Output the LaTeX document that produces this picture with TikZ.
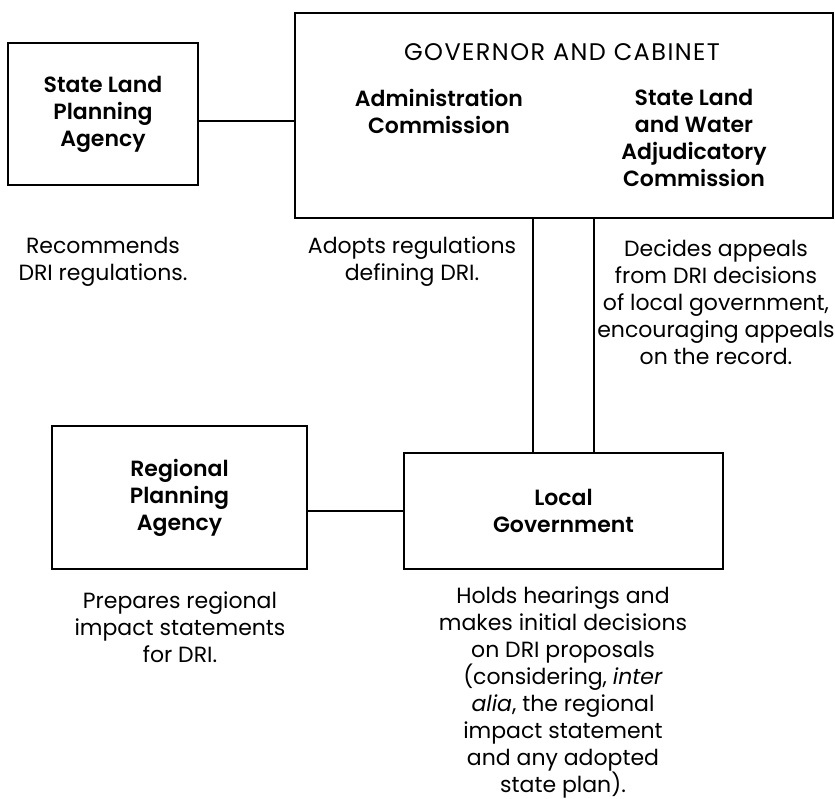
\documentclass[tikz,border=0pt]{standalone}
\usepackage{fontspec}
\setmainfont{Poppins}[BoldFont={* SemiBold}]
\usetikzlibrary{positioning,calc}

\begin{document}
\begin{tikzpicture}[x=1pt,y=-1pt,
  font={\fontsize{22pt}{27pt}\selectfont},
  agency/.style={draw,line width=2.4,inner sep=0,align=center,font={\fontsize{22pt}{27pt}\selectfont\bfseries}},
  remark/.style={align=center,inner sep=0},
  link/.style={line width=1.8}
  ]
  \useasboundingbox (0,0) rectangle (835,799);

  % boxes
  \node[agency,minimum width=190,minimum height=142] (slpa) at (103,114) {State Land\\Planning\\Agency};
  \node[agency,minimum width=538,minimum height=205] (gov) at (564,115.5) {};
  \node[remark,font={\fontsize{24pt}{27pt}\selectfont\addfontfeature{LetterSpace=6}}] (title) at (562,52) {GOVERNOR AND CABINET};
  \node[remark,font={\fontsize{22pt}{27pt}\selectfont\bfseries}] (admin) at (439,111) {Administration\\Commission};
  \node[remark,font={\fontsize{22pt}{27pt}\selectfont\bfseries}] (adjud) at (694,138) {State Land\\and Water\\Adjudicatory\\Commission};
  \node[agency,minimum width=255,minimum height=143] (rpa) at (179.5,497.5) {Regional\\Planning\\Agency};
  \node[agency,minimum width=319,minimum height=116] (local) at (563.5,511) {Local\\Government};

  % what each one does
  \node[remark] (recommends) at (103,262) {Recommends\\DRI regulations.};
  \node[remark] (adopts) at (412,262) {Adopts regulations\\defining DRI.};
  \node[remark] (decides) at (716,302) {Decides appeals\\from DRI decisions\\of local government,\\encouraging appeals\\on the record.};
  \node[remark] (prepares) at (180,627) {Prepares regional\\impact statements\\for DRI.};
  \node[remark] (holds) at (563,692) {Holds hearings and\\makes initial decisions\\on DRI proposals\\(considering, \emph{inter}\\\emph{alia}, the regional\\impact statement\\and any adopted\\state plan).};

  % links
  \draw[link] ([yshift=-7]slpa.east) -- ([yshift=-7]slpa.east -| gov.west);
  \draw[link] (local.west -| rpa.east) -- (local.west);
  \draw[link] ([xshift=-30.5]local.north) -- ([xshift=-30.5]local.north |- gov.south);
  \draw[link] ([xshift=30.5]local.north) -- ([xshift=30.5]local.north |- gov.south);
\end{tikzpicture}
\end{document}
